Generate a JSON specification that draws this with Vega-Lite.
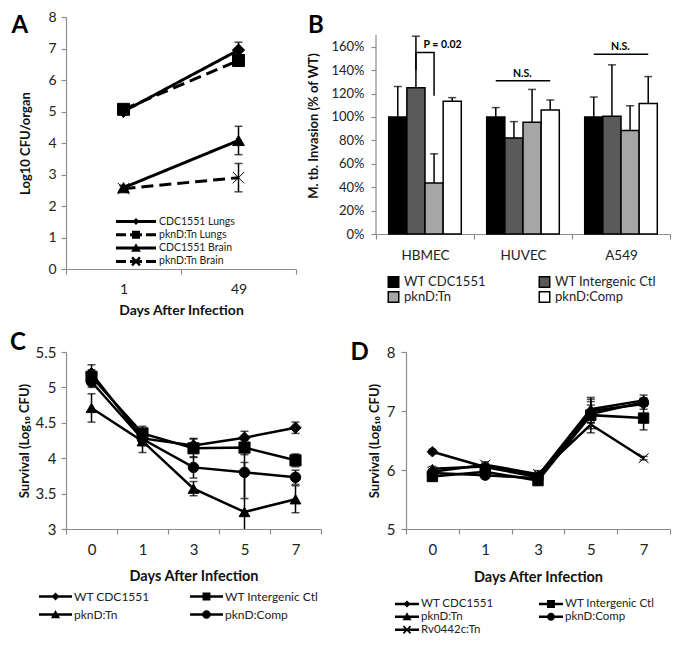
{
  "$schema": "https://vega.github.io/schema/vega-lite/v6.json",
  "padding": {"left": 10, "top": 10, "right": 5, "bottom": 5},
  "spacing": 13,
  "resolve": {"scale": {"fill": "independent", "shape": "independent", "size": "independent", "strokeWidth": "independent", "strokeDash": "independent"}, "legend": {"fill": "independent", "shape": "independent"}},
  "vconcat": [
    {
      "columns": 2,
      "align": "none",
      "spacing": 10,
      "resolve": {"scale": {"fill": "independent", "shape": "independent", "size": "independent", "strokeWidth": "independent", "strokeDash": "independent"}, "legend": {"fill": "independent", "shape": "independent"}},
      "concat": [
        {
          "width": 230,
          "height": 252,
          "title": {"text": "A", "frame": "bounds", "offset": -28, "align": "center"},
          "data": {"values": [
            {"series": "CDC1551 Lungs", "day": "1", "value": 5.0, "lo": 4.93, "hi": 5.07},
            {"series": "CDC1551 Lungs", "day": "49", "value": 6.95, "lo": 6.7, "hi": 7.2},
            {"series": "pknD:Tn Lungs", "day": "1", "value": 5.07, "lo": 4.97, "hi": 5.17},
            {"series": "pknD:Tn Lungs", "day": "49", "value": 6.62, "lo": 6.45, "hi": 6.79},
            {"series": "CDC1551 Brain", "day": "1", "value": 2.58, "lo": 2.5, "hi": 2.66},
            {"series": "CDC1551 Brain", "day": "49", "value": 4.08, "lo": 3.63, "hi": 4.53},
            {"series": "pknD:Tn Brain", "day": "1", "value": 2.55, "lo": 2.47, "hi": 2.63},
            {"series": "pknD:Tn Brain", "day": "49", "value": 2.9, "lo": 2.45, "hi": 3.35}
          ]},
          "encoding": {
            "x": {"field": "day", "type": "ordinal", "title": "Days After Infection",
              "scale": {"type": "band", "domain": ["1", "49"], "paddingInner": 0, "paddingOuter": 0},
              "axis": {"tickBand": "extent", "labelPadding": 8, "titlePadding": 7, "titleFontSize": 14}}
          },
          "layer": [
            {"mark": {"type": "rule", "color": "black", "strokeWidth": 1.5},
             "encoding": {"y": {"field": "lo", "type": "quantitative", "title": "Log10 CFU/organ", "scale": {"domain": [0, 8]}, "axis": {"values": [0,1,2,3,4,5,6,7,8], "titleFontSize": 13, "titlePadding": 15, "labelPadding": 5}}, "y2": {"field": "hi"}}},
            {"mark": {"type": "tick", "color": "black", "thickness": 1.5, "size": 8},
             "encoding": {"y": {"field": "lo", "type": "quantitative", "title": "Log10 CFU/organ", "scale": {"domain": [0, 8]}, "axis": {"values": [0,1,2,3,4,5,6,7,8], "titleFontSize": 13, "titlePadding": 15, "labelPadding": 5}}}},
            {"mark": {"type": "tick", "color": "black", "thickness": 1.5, "size": 8},
             "encoding": {"y": {"field": "hi", "type": "quantitative", "title": "Log10 CFU/organ", "scale": {"domain": [0, 8]}, "axis": {"values": [0,1,2,3,4,5,6,7,8], "titleFontSize": 13, "titlePadding": 15, "labelPadding": 5}}}},
            {"mark": {"type": "line", "color": "black", "strokeWidth": 3},
             "encoding": {
               "y": {"field": "value", "type": "quantitative", "title": "Log10 CFU/organ", "scale": {"domain": [0, 8]}, "axis": {"values": [0,1,2,3,4,5,6,7,8], "titleFontSize": 13, "titlePadding": 15, "labelPadding": 5}},
               "detail": {"field": "series"},
               "strokeDash": {"field": "series", "scale": {"domain": ["CDC1551 Lungs", "pknD:Tn Lungs", "CDC1551 Brain", "pknD:Tn Brain"], "range": [[1, 0], [12, 6], [1, 0], [12, 6]]}, "legend": null}
             }},
            {"mark": {"type": "point", "filled": true, "color": "black", "stroke": "black", "opacity": 1},
             "encoding": {
               "y": {"field": "value", "type": "quantitative", "title": "Log10 CFU/organ", "scale": {"domain": [0, 8]}, "axis": {"values": [0,1,2,3,4,5,6,7,8], "titleFontSize": 13, "titlePadding": 15, "labelPadding": 5}},
               "shape": {"field": "series", "scale": {"domain": ["CDC1551 Lungs", "pknD:Tn Lungs", "CDC1551 Brain", "pknD:Tn Brain"], "range": ["diamond", "square", "triangle-up", "M-1,-1L1,1M-1,1L1,-1"]}, "legend": null},
               "size": {"field": "series", "scale": {"domain": ["CDC1551 Lungs", "pknD:Tn Lungs", "CDC1551 Brain", "pknD:Tn Brain"], "range": [150, 130, 150, 64]}, "legend": null},
               "strokeWidth": {"field": "series", "scale": {"domain": ["CDC1551 Lungs", "pknD:Tn Lungs", "CDC1551 Brain", "pknD:Tn Brain"], "range": [1, 1, 1, 3.5]}, "legend": null}
             }},
            {"transform": [{"filter": "false"}],
             "mark": {"type": "point", "filled": true, "color": "black", "strokeWidth": 0, "size": 1600},
             "encoding": {
               "y": {"field": "value", "type": "quantitative", "title": "Log10 CFU/organ", "scale": {"domain": [0, 8]}, "axis": {"values": [0,1,2,3,4,5,6,7,8], "titleFontSize": 13, "titlePadding": 15, "labelPadding": 5}},
               "shape": {"field": "series",
                 "scale": {"domain": ["CDC1551 Lungs", "pknD:Tn Lungs", "CDC1551 Brain", "pknD:Tn Brain"],
                   "range": [
                     "M-1,-0.075H1V0.075H-1ZM0,-0.17L0.17,0L0,0.17L-0.17,0Z",
                     "M-1,-0.075H-0.5V0.075H-1ZM-0.3,-0.075H0.3V0.075H-0.3ZM0.5,-0.075H1V0.075H0.5ZM-0.2,-0.2H0.2V0.2H-0.2Z",
                     "M-1,-0.075H1V0.075H-1ZM0,-0.24L0.24,0.18H-0.24Z",
                     "M-1,-0.075H-0.5V0.075H-1ZM-0.3,-0.075H0.3V0.075H-0.3ZM0.5,-0.075H1V0.075H0.5ZM-0.1575,-0.2425L0.2425,0.1575L0.1575,0.2425L-0.2425,-0.1575ZM0.2425,-0.1575L-0.1575,0.2425L-0.2425,0.1575L0.1575,-0.2425Z"]},
                 "legend": {"orient": "none", "legendX": 50, "legendY": 198, "title": null, "symbolSize": 1600, "symbolStrokeWidth": 0, "symbolFillColor": "black", "symbolOpacity": 1, "clipHeight": 13, "labelOffset": 3, "labelFontSize": 10.5, "rowPadding": 0.3}}
             }}
          ],
          "resolve": {"scale": {"shape": "independent"}}
        },
        {
          "width": 294,
          "height": 217,
          "title": {"text": "B", "frame": "bounds", "offset": -21},
          "data": {"values": [
            {"cell": "HBMEC", "strain": "WT CDC1551", "value": 1.0, "hi": 1.26},
            {"cell": "HBMEC", "strain": "WT Intergenic Ctl", "value": 1.25, "hi": 1.69},
            {"cell": "HBMEC", "strain": "pknD:Tn", "value": 0.435, "hi": 0.685},
            {"cell": "HBMEC", "strain": "pknD:Comp", "value": 1.135, "hi": 1.165},
            {"cell": "HUVEC", "strain": "WT CDC1551", "value": 1.0, "hi": 1.08},
            {"cell": "HUVEC", "strain": "WT Intergenic Ctl", "value": 0.82, "hi": 0.96},
            {"cell": "HUVEC", "strain": "pknD:Tn", "value": 0.955, "hi": 1.235},
            {"cell": "HUVEC", "strain": "pknD:Comp", "value": 1.06, "hi": 1.145},
            {"cell": "A549", "strain": "WT CDC1551", "value": 1.0, "hi": 1.17},
            {"cell": "A549", "strain": "WT Intergenic Ctl", "value": 1.005, "hi": 1.445},
            {"cell": "A549", "strain": "pknD:Tn", "value": 0.885, "hi": 1.095},
            {"cell": "A549", "strain": "pknD:Comp", "value": 1.115, "hi": 1.345}
          ]},
          "encoding": {
            "x": {"field": "cell", "type": "nominal", "title": null,
              "scale": {"domain": ["HBMEC", "HUVEC", "A549"], "paddingInner": 0, "paddingOuter": 0},
              "axis": {"tickBand": "extent", "labelPadding": 9, "labelFontSize": 13.5}}
          },
          "layer": [
            {"mark": {"type": "bar", "stroke": "black", "strokeWidth": 1.5},
             "encoding": {
               "xOffset": {"field": "strain", "type": "nominal", "scale": {"domain": ["WT CDC1551", "WT Intergenic Ctl", "pknD:Tn", "pknD:Comp"], "paddingInner": 0, "paddingOuter": 0.7}},
               "y": {"field": "value", "type": "quantitative", "title": "M. tb. Invasion (% of WT)", "scale": {"domain": [0, 1.8538]},
                 "axis": {"values": [0, 0.2, 0.4, 0.6, 0.8, 1.0, 1.2, 1.4, 1.6], "format": ".0%", "domain": false, "titleFontSize": 13, "titlePadding": 10, "labelPadding": 7, "labelFontSize": 13}},
               "fill": {"field": "strain", "type": "nominal",
                 "scale": {"domain": ["WT CDC1551", "WT Intergenic Ctl", "pknD:Tn", "pknD:Comp"], "range": ["#000000", "#5a5a5a", "#a6a6a6", "#ffffff"]},
                 "legend": {"orient": "none", "direction": "horizontal", "legendX": 11, "legendY": 258, "title": null, "columns": 2, "columnPadding": 52, "symbolType": "square", "symbolSize": 110, "symbolStrokeColor": "black", "symbolStrokeWidth": 1.5, "labelFontSize": 13, "clipHeight": 14, "rowPadding": 1, "labelOffset": 4}}
             }},
            {"data": {"values": [{"cell": "HBMEC", "y0": 0, "y1": 1.7}]},
             "mark": {"type": "rule", "color": "#8c8c8c", "strokeWidth": 1.2},
             "encoding": {
               "x": {"field": "cell", "type": "nominal", "bandPosition": 0},
               "y": {"field": "y0", "type": "quantitative", "title": "M. tb. Invasion (% of WT)", "scale": {"domain": [0, 1.8538]},
                 "axis": {"values": [0, 0.2, 0.4, 0.6, 0.8, 1.0, 1.2, 1.4, 1.6], "format": ".0%", "domain": false, "titleFontSize": 13, "titlePadding": 10, "labelPadding": 7, "labelFontSize": 13}},
               "y2": {"field": "y1"}}},
            {"mark": {"type": "rule", "color": "black", "strokeWidth": 1.5},
             "encoding": {
               "xOffset": {"field": "strain", "type": "nominal"},
               "y": {"field": "value", "type": "quantitative", "title": "M. tb. Invasion (% of WT)", "scale": {"domain": [0, 1.8538]},
                 "axis": {"values": [0, 0.2, 0.4, 0.6, 0.8, 1.0, 1.2, 1.4, 1.6], "format": ".0%", "domain": false, "titleFontSize": 13, "titlePadding": 10, "labelPadding": 7, "labelFontSize": 13}}, "y2": {"field": "hi"}}},
            {"mark": {"type": "tick", "color": "black", "thickness": 1.5, "size": 8},
             "encoding": {
               "xOffset": {"field": "strain", "type": "nominal"},
               "y": {"field": "hi", "type": "quantitative", "title": "M. tb. Invasion (% of WT)", "scale": {"domain": [0, 1.8538]},
                 "axis": {"values": [0, 0.2, 0.4, 0.6, 0.8, 1.0, 1.2, 1.4, 1.6], "format": ".0%", "domain": false, "titleFontSize": 13, "titlePadding": 10, "labelPadding": 7, "labelFontSize": 13}}}},
            {"data": {"values": [
               {"cell": "HBMEC", "strain": "WT Intergenic Ctl", "y": 1.40, "k": 1, "grp": "p"},
               {"cell": "HBMEC", "strain": "WT Intergenic Ctl", "y": 1.55, "k": 2, "grp": "p"},
               {"cell": "HBMEC", "strain": "pknD:Tn", "y": 1.55, "k": 3, "grp": "p"},
               {"cell": "HBMEC", "strain": "pknD:Tn", "y": 1.18, "k": 4, "grp": "p"},
               {"cell": "HUVEC", "strain": "WT CDC1551", "y": 1.31, "k": 1, "grp": "ns1"},
               {"cell": "HUVEC", "strain": "pknD:Comp", "y": 1.31, "k": 2, "grp": "ns1"},
               {"cell": "A549", "strain": "WT CDC1551", "y": 1.535, "k": 1, "grp": "ns2"},
               {"cell": "A549", "strain": "pknD:Comp", "y": 1.535, "k": 2, "grp": "ns2"}
             ]},
             "mark": {"type": "line", "color": "black", "strokeWidth": 1.5},
             "encoding": {
               "xOffset": {"field": "strain", "type": "nominal"},
               "y": {"field": "y", "type": "quantitative", "title": "M. tb. Invasion (% of WT)", "scale": {"domain": [0, 1.8538]},
                 "axis": {"values": [0, 0.2, 0.4, 0.6, 0.8, 1.0, 1.2, 1.4, 1.6], "format": ".0%", "domain": false, "titleFontSize": 13, "titlePadding": 10, "labelPadding": 7, "labelFontSize": 13}}, "detail": {"field": "grp"}, "order": {"field": "k"}}},
            {"data": {"values": [
               {"cell": "HBMEC", "strain": "pknD:Tn", "y": 1.615, "label": "P = 0.02"},
               {"cell": "HUVEC", "strain": "WT Intergenic Ctl", "y": 1.37, "label": "N.S."},
               {"cell": "A549", "strain": "WT Intergenic Ctl", "y": 1.6, "label": "N.S."}
             ]},
             "mark": {"type": "text", "fontWeight": "bold", "fontSize": 10.5, "dx": 8.5, "baseline": "middle", "color": "black"},
             "encoding": {
               "xOffset": {"field": "strain", "type": "nominal"},
               "y": {"field": "y", "type": "quantitative", "title": "M. tb. Invasion (% of WT)", "scale": {"domain": [0, 1.8538]},
                 "axis": {"values": [0, 0.2, 0.4, 0.6, 0.8, 1.0, 1.2, 1.4, 1.6], "format": ".0%", "domain": false, "titleFontSize": 13, "titlePadding": 10, "labelPadding": 7, "labelFontSize": 13}}, "text": {"field": "label"}}}
          ]
        }
      ]
    },
    {
      "columns": 2,
      "align": "none",
      "spacing": 28,
      "resolve": {"scale": {"fill": "independent", "shape": "independent", "size": "independent", "strokeWidth": "independent", "strokeDash": "independent"}, "legend": {"fill": "independent", "shape": "independent"}},
      "concat": [
        {
          "width": 255,
          "height": 177,
          "title": {"text": "C", "frame": "bounds", "offset": -9.5, "align": "center"},
          "data": {"values": [
            {"series": "WT CDC1551", "day": "0", "value": 5.2, "lo": 5.08, "hi": 5.32},
            {"series": "WT CDC1551", "day": "1", "value": 4.28, "lo": 4.2, "hi": 4.36},
            {"series": "WT CDC1551", "day": "3", "value": 4.18, "lo": 4.08, "hi": 4.28},
            {"series": "WT CDC1551", "day": "5", "value": 4.29, "lo": 4.2, "hi": 4.38},
            {"series": "WT CDC1551", "day": "7", "value": 4.43, "lo": 4.35, "hi": 4.51},
            {"series": "WT Intergenic Ctl", "day": "0", "value": 5.15, "lo": 5.05, "hi": 5.25},
            {"series": "WT Intergenic Ctl", "day": "1", "value": 4.35, "lo": 4.25, "hi": 4.45},
            {"series": "WT Intergenic Ctl", "day": "3", "value": 4.14, "lo": 4.01, "hi": 4.27},
            {"series": "WT Intergenic Ctl", "day": "5", "value": 4.15, "lo": 4.05, "hi": 4.25},
            {"series": "WT Intergenic Ctl", "day": "7", "value": 3.97, "lo": 3.88, "hi": 4.06},
            {"series": "pknD:Tn", "day": "0", "value": 4.71, "lo": 4.51, "hi": 4.91},
            {"series": "pknD:Tn", "day": "1", "value": 4.24, "lo": 4.08, "hi": 4.4},
            {"series": "pknD:Tn", "day": "3", "value": 3.57, "lo": 3.47, "hi": 3.67},
            {"series": "pknD:Tn", "day": "5", "value": 3.24, "lo": 2.54, "hi": 3.94},
            {"series": "pknD:Tn", "day": "7", "value": 3.42, "lo": 3.23, "hi": 3.61},
            {"series": "pknD:Comp", "day": "0", "value": 5.08, "lo": 5.0, "hi": 5.16},
            {"series": "pknD:Comp", "day": "1", "value": 4.27, "lo": 4.18, "hi": 4.36},
            {"series": "pknD:Comp", "day": "3", "value": 3.87, "lo": 3.72, "hi": 4.02},
            {"series": "pknD:Comp", "day": "5", "value": 3.8, "lo": 3.43, "hi": 4.17},
            {"series": "pknD:Comp", "day": "7", "value": 3.73, "lo": 3.63, "hi": 3.83}
          ]},
          "encoding": {
            "x": {"field": "day", "type": "ordinal", "title": "Days After Infection",
              "scale": {"type": "band", "domain": ["0", "1", "3", "5", "7"], "paddingInner": 0, "paddingOuter": 0},
              "axis": {"tickBand": "extent", "labelPadding": 8, "titlePadding": 12, "titleFontSize": 14.5, "labelFontSize": 15}}
          },
          "layer": [
            {"mark": {"type": "rule", "color": "black", "strokeWidth": 1.5, "clip": true},
             "encoding": {"y": {"field": "lo", "type": "quantitative", "title": "Survival (Log₁₀ CFU)", "scale": {"domain": [3, 5.5]}, "axis": {"values": [3, 3.5, 4, 4.5, 5, 5.5], "format": "~g", "titleFontSize": 13, "titlePadding": 4, "labelPadding": 5, "labelFontSize": 15}}, "y2": {"field": "hi"}}},
            {"mark": {"type": "tick", "color": "black", "thickness": 1.5, "size": 8, "clip": true},
             "encoding": {"y": {"field": "lo", "type": "quantitative", "title": "Survival (Log₁₀ CFU)", "scale": {"domain": [3, 5.5]}, "axis": {"values": [3, 3.5, 4, 4.5, 5, 5.5], "format": "~g", "titleFontSize": 13, "titlePadding": 4, "labelPadding": 5, "labelFontSize": 15}}}},
            {"mark": {"type": "tick", "color": "black", "thickness": 1.5, "size": 8},
             "encoding": {"y": {"field": "hi", "type": "quantitative", "title": "Survival (Log₁₀ CFU)", "scale": {"domain": [3, 5.5]}, "axis": {"values": [3, 3.5, 4, 4.5, 5, 5.5], "format": "~g", "titleFontSize": 13, "titlePadding": 4, "labelPadding": 5, "labelFontSize": 15}}}},
            {"mark": {"type": "line", "color": "black", "strokeWidth": 2.5},
             "encoding": {"y": {"field": "value", "type": "quantitative", "title": "Survival (Log₁₀ CFU)", "scale": {"domain": [3, 5.5]}, "axis": {"values": [3, 3.5, 4, 4.5, 5, 5.5], "format": "~g", "titleFontSize": 13, "titlePadding": 4, "labelPadding": 5, "labelFontSize": 15}}, "detail": {"field": "series"}}},
            {"mark": {"type": "point", "filled": true, "color": "black", "stroke": "black", "strokeWidth": 1, "opacity": 1},
             "encoding": {
               "y": {"field": "value", "type": "quantitative", "title": "Survival (Log₁₀ CFU)", "scale": {"domain": [3, 5.5]}, "axis": {"values": [3, 3.5, 4, 4.5, 5, 5.5], "format": "~g", "titleFontSize": 13, "titlePadding": 4, "labelPadding": 5, "labelFontSize": 15}},
               "shape": {"field": "series", "scale": {"domain": ["WT CDC1551", "WT Intergenic Ctl", "pknD:Tn", "pknD:Comp"], "range": ["diamond", "square", "triangle-up", "circle"]}, "legend": null},
               "size": {"field": "series", "scale": {"domain": ["WT CDC1551", "WT Intergenic Ctl", "pknD:Tn", "pknD:Comp"], "range": [130, 110, 120, 120]}, "legend": null}
             }},
            {"transform": [{"filter": "false"}],
             "mark": {"type": "point", "filled": true, "color": "black", "strokeWidth": 0, "size": 1089},
             "encoding": {
               "y": {"field": "value", "type": "quantitative", "title": "Survival (Log₁₀ CFU)", "scale": {"domain": [3, 5.5]}, "axis": {"values": [3, 3.5, 4, 4.5, 5, 5.5], "format": "~g", "titleFontSize": 13, "titlePadding": 4, "labelPadding": 5, "labelFontSize": 15}},
               "shape": {"field": "series",
                 "scale": {"domain": ["WT CDC1551", "WT Intergenic Ctl", "pknD:Tn", "pknD:Comp"],
                   "range": [
                     "M-1,-0.076H1V0.076H-1ZM0,-0.24L0.24,0L0,0.24L-0.24,0Z",
                     "M-1,-0.076H1V0.076H-1ZM-0.24,-0.24H0.24V0.24H-0.24Z",
                     "M-1,-0.076H1V0.076H-1ZM0,-0.28L0.28,0.22H-0.28Z",
                     "M-1,-0.076H1V0.076H-1ZM0.26,0A0.26,0.26 0 1,1 -0.26,0A0.26,0.26 0 1,1 0.26,0Z"]},
                 "legend": {"orient": "none", "direction": "horizontal", "legendX": -27, "legendY": 238, "title": null, "columns": 2, "columnPadding": 40, "symbolSize": 1089, "symbolStrokeWidth": 0, "symbolFillColor": "black", "symbolOpacity": 1, "clipHeight": 13, "labelOffset": 2, "labelFontSize": 12, "rowPadding": 5}}
             }}
          ],
          "resolve": {"scale": {"shape": "independent"}}
        },
        {
          "width": 264,
          "height": 177,
          "title": {"text": "D", "frame": "bounds", "offset": -19.5, "align": "right"},
          "data": {"values": [
            {"series": "WT CDC1551", "day": "0", "value": 6.31, "lo": 6.27, "hi": 6.35},
            {"series": "WT CDC1551", "day": "1", "value": 6.05, "lo": 6.0, "hi": 6.1},
            {"series": "WT CDC1551", "day": "3", "value": 5.88, "lo": 5.82, "hi": 5.94},
            {"series": "WT CDC1551", "day": "5", "value": 7.0, "lo": 6.8, "hi": 7.2},
            {"series": "WT CDC1551", "day": "7", "value": 7.12, "lo": 7.03, "hi": 7.21},
            {"series": "WT Intergenic Ctl", "day": "0", "value": 5.89, "lo": 5.85, "hi": 5.93},
            {"series": "WT Intergenic Ctl", "day": "1", "value": 5.97, "lo": 5.92, "hi": 6.02},
            {"series": "WT Intergenic Ctl", "day": "3", "value": 5.82, "lo": 5.76, "hi": 5.88},
            {"series": "WT Intergenic Ctl", "day": "5", "value": 6.93, "lo": 6.63, "hi": 7.23},
            {"series": "WT Intergenic Ctl", "day": "7", "value": 6.88, "lo": 6.68, "hi": 7.08},
            {"series": "pknD:Tn", "day": "0", "value": 6.02, "lo": 5.98, "hi": 6.06},
            {"series": "pknD:Tn", "day": "1", "value": 6.06, "lo": 6.01, "hi": 6.11},
            {"series": "pknD:Tn", "day": "3", "value": 5.9, "lo": 5.84, "hi": 5.96},
            {"series": "pknD:Tn", "day": "5", "value": 7.03, "lo": 6.9, "hi": 7.16},
            {"series": "pknD:Tn", "day": "7", "value": 7.18, "lo": 7.09, "hi": 7.27},
            {"series": "pknD:Comp", "day": "0", "value": 5.95, "lo": 5.9, "hi": 6.0},
            {"series": "pknD:Comp", "day": "1", "value": 5.91, "lo": 5.87, "hi": 5.95},
            {"series": "pknD:Comp", "day": "3", "value": 5.86, "lo": 5.8, "hi": 5.92},
            {"series": "pknD:Comp", "day": "5", "value": 6.95, "lo": 6.8, "hi": 7.1},
            {"series": "pknD:Comp", "day": "7", "value": 7.15, "lo": 7.08, "hi": 7.22},
            {"series": "Rv0442c:Tn", "day": "0", "value": 5.97, "lo": 5.93, "hi": 6.01},
            {"series": "Rv0442c:Tn", "day": "1", "value": 6.09, "lo": 6.04, "hi": 6.14},
            {"series": "Rv0442c:Tn", "day": "3", "value": 5.93, "lo": 5.87, "hi": 5.99},
            {"series": "Rv0442c:Tn", "day": "5", "value": 6.77, "lo": 6.7, "hi": 6.84},
            {"series": "Rv0442c:Tn", "day": "7", "value": 6.2, "lo": 6.17, "hi": 6.23}
          ]},
          "encoding": {
            "x": {"field": "day", "type": "ordinal", "title": "Days After Infection",
              "scale": {"type": "band", "domain": ["0", "1", "3", "5", "7"], "paddingInner": 0, "paddingOuter": 0},
              "axis": {"tickBand": "extent", "labelPadding": 8, "titlePadding": 13, "titleFontSize": 14.5, "labelFontSize": 15}}
          },
          "layer": [
            {"mark": {"type": "rule", "color": "black", "strokeWidth": 1.5},
             "encoding": {"y": {"field": "lo", "type": "quantitative", "title": "Survival (Log₁₀ CFU)", "scale": {"domain": [5, 8]}, "axis": {"values": [5, 6, 7, 8], "format": "~g", "titleFontSize": 13, "titlePadding": 4.5, "labelPadding": 6, "labelFontSize": 15}}, "y2": {"field": "hi"}}},
            {"mark": {"type": "tick", "color": "black", "thickness": 1.5, "size": 8},
             "encoding": {"y": {"field": "lo", "type": "quantitative", "title": "Survival (Log₁₀ CFU)", "scale": {"domain": [5, 8]}, "axis": {"values": [5, 6, 7, 8], "format": "~g", "titleFontSize": 13, "titlePadding": 4.5, "labelPadding": 6, "labelFontSize": 15}}}},
            {"mark": {"type": "tick", "color": "black", "thickness": 1.5, "size": 8},
             "encoding": {"y": {"field": "hi", "type": "quantitative", "title": "Survival (Log₁₀ CFU)", "scale": {"domain": [5, 8]}, "axis": {"values": [5, 6, 7, 8], "format": "~g", "titleFontSize": 13, "titlePadding": 4.5, "labelPadding": 6, "labelFontSize": 15}}}},
            {"mark": {"type": "line", "color": "black", "strokeWidth": 2.5},
             "encoding": {"y": {"field": "value", "type": "quantitative", "title": "Survival (Log₁₀ CFU)", "scale": {"domain": [5, 8]}, "axis": {"values": [5, 6, 7, 8], "format": "~g", "titleFontSize": 13, "titlePadding": 4.5, "labelPadding": 6, "labelFontSize": 15}}, "detail": {"field": "series"}}},
            {"mark": {"type": "point", "filled": true, "color": "black", "stroke": "black", "opacity": 1},
             "encoding": {
               "y": {"field": "value", "type": "quantitative", "title": "Survival (Log₁₀ CFU)", "scale": {"domain": [5, 8]}, "axis": {"values": [5, 6, 7, 8], "format": "~g", "titleFontSize": 13, "titlePadding": 4.5, "labelPadding": 6, "labelFontSize": 15}},
               "shape": {"field": "series", "scale": {"domain": ["WT CDC1551", "WT Intergenic Ctl", "pknD:Tn", "pknD:Comp", "Rv0442c:Tn"], "range": ["diamond", "square", "triangle-up", "circle", "M-1,-1L1,1M-1,1L1,-1"]}, "legend": null},
               "size": {"field": "series", "scale": {"domain": ["WT CDC1551", "WT Intergenic Ctl", "pknD:Tn", "pknD:Comp", "Rv0442c:Tn"], "range": [110, 100, 100, 100, 64]}, "legend": null},
               "strokeWidth": {"field": "series", "scale": {"domain": ["WT CDC1551", "WT Intergenic Ctl", "pknD:Tn", "pknD:Comp", "Rv0442c:Tn"], "range": [1, 1, 1, 1, 1.6]}, "legend": null}
             }},
            {"transform": [{"filter": "false"}],
             "mark": {"type": "point", "filled": true, "color": "black", "strokeWidth": 0, "size": 576},
             "encoding": {
               "y": {"field": "value", "type": "quantitative", "title": "Survival (Log₁₀ CFU)", "scale": {"domain": [5, 8]}, "axis": {"values": [5, 6, 7, 8], "format": "~g", "titleFontSize": 13, "titlePadding": 4.5, "labelPadding": 6, "labelFontSize": 15}},
               "shape": {"field": "series",
                 "scale": {"domain": ["WT CDC1551", "WT Intergenic Ctl", "pknD:Tn", "pknD:Comp", "Rv0442c:Tn"],
                   "range": [
                     "M-1,-0.104H1V0.104H-1ZM0,-0.3L0.3,0L0,0.3L-0.3,0Z",
                     "M-1,-0.104H1V0.104H-1ZM-0.33,-0.33H0.33V0.33H-0.33Z",
                     "M-1,-0.104H1V0.104H-1ZM0,-0.38L0.38,0.3H-0.38Z",
                     "M-1,-0.104H1V0.104H-1ZM0.33,0A0.33,0.33 0 1,1 -0.33,0A0.33,0.33 0 1,1 0.33,0Z",
                     "M-1,-0.104H1V0.104H-1ZM-0.254,-0.346L0.346,0.254L0.254,0.346L-0.346,-0.254ZM0.346,-0.254L-0.254,0.346L-0.346,0.254L0.254,-0.346Z"]},
                 "legend": {"orient": "none", "direction": "horizontal", "legendX": -11, "legendY": 245.5, "title": null, "columns": 2, "columnPadding": 45, "symbolSize": 576, "symbolStrokeWidth": 0, "symbolFillColor": "black", "symbolOpacity": 1, "clipHeight": 12.5, "labelOffset": 2, "labelFontSize": 11.5, "rowPadding": 0}}
             }}
          ],
          "resolve": {"scale": {"shape": "independent"}}
        }
      ]
    }
  ],
  "config": {
    "font": "Lato",
    "view": {"stroke": null},
    "axis": {"grid": false, "domainColor": "#8c8c8c", "tickColor": "#8c8c8c", "domainWidth": 1.2, "tickWidth": 1.2, "tickSize": 5, "labelColor": "#222222", "titleColor": "#111111", "labelFontSize": 14, "titleFontSize": 14, "titleFontWeight": "bold", "labelFontWeight": "normal"},
    "axisX": {"labelAngle": 0},
    "legend": {"labelColor": "#222222"},
    "title": {"fontSize": 24, "fontWeight": "bold", "anchor": "start", "color": "#000000"}
  }
}
